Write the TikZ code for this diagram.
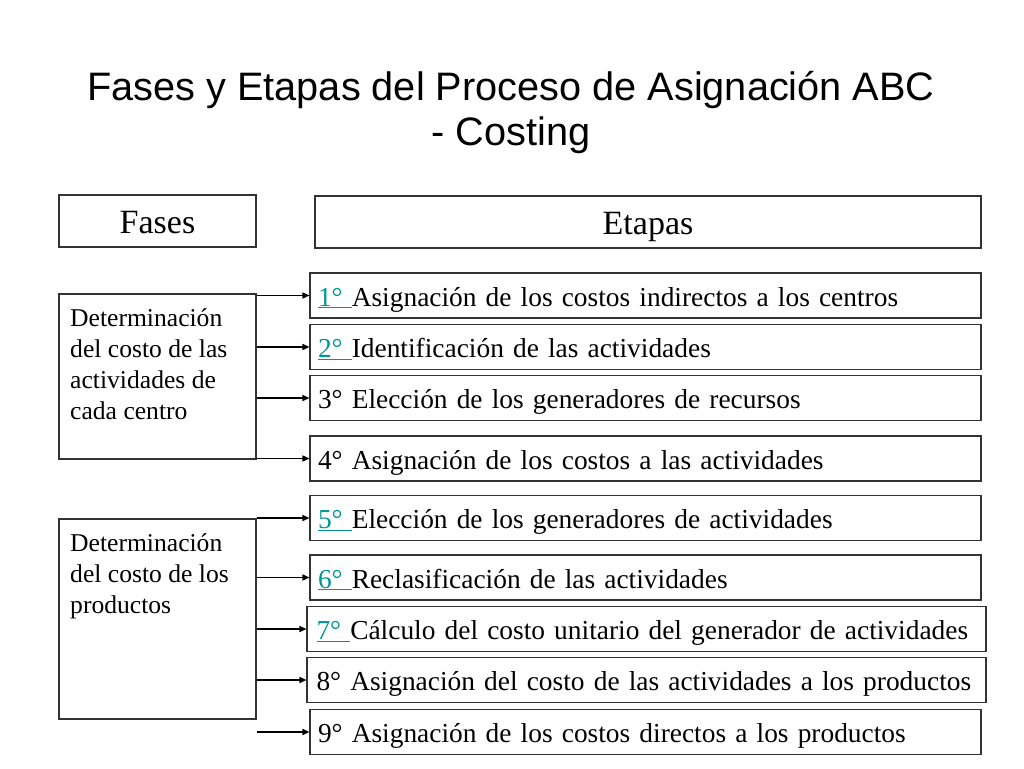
\documentclass[tikz,border=0pt]{standalone}
\usepackage{fontspec}
\setmainfont{Liberation Serif}
\newfontfamily\titlefont{Liberation Sans}
\usetikzlibrary{arrows.meta}
\definecolor{enlace}{RGB}{0,150,150}
\newcommand{\paso}[1]{\textcolor{enlace}{\underline{#1\ }}}

\begin{document}
\begin{tikzpicture}[x=1pt,y=-1pt]
\tikzstyle{caja}=[draw=black!80,line width=1.1pt,inner sep=0pt]
\tikzstyle{etapa}=[caja,font=\fontsize{27.4}{32}\selectfont,
                   text width=655pt,inner xsep=8pt,minimum height=45pt,align=left,
                   text height=27pt,text depth=6pt]
\tikzstyle{etapaancha}=[etapa,text width=660pt,inner xsep=9.5pt]
\tikzstyle{fase}=[caja,minimum width=197pt]
\tikzstyle{fasetxt}=[font=\fontsize{25.6}{31}\selectfont,align=left,
                     anchor=north west,inner sep=0pt]
\tikzstyle{titular}=[caja,minimum height=52pt,font=\fontsize{34}{40}\selectfont,
                     text height=30pt,text depth=6pt]
\tikzstyle{flecha}=[line width=1.5pt,-{Triangle[length=7pt,width=6pt]}]
\useasboundingbox (0,0) rectangle (1024,768);

% titulo
\node[font=\titlefont\fontsize{39.7}{45}\selectfont,align=center,anchor=north]
  (titulo) at (511,68) {Fases y Etapas del Proceso de Asignación ABC\\- Costing};

% encabezados
\node[titular,minimum width=197pt] (fases) at (157.5,221) {Fases};
\node[titular,minimum width=666pt] (etapas) at (648,222) {Etapas};

% fases
\node[fase,minimum height=165pt] (f1) at (157.5,376.5) {};
\node[fasetxt] (f1t) at (70,308)
  {Determinación\\del costo de las\\actividades de\\cada centro};
\node[fase,minimum height=200pt] (f2) at (157.5,619) {};
\node[fasetxt] (f2t) at (70,533)
  {Determinación\\del costo de los\\productos};

% etapas
\node[etapa] (e1) at (645.5,295.5) {\paso{1°}Asignación de los costos indirectos a los centros};
\node[etapa] (e2) at (645.5,347) {\paso{2°}Identificación de las actividades};
\node[etapa] (e3) at (645.5,398) {3° Elección de los generadores de recursos};
\node[etapa] (e4) at (645.5,458.5) {4° Asignación de los costos a las actividades};
\node[etapa] (e5) at (645.5,518) {\paso{5°}Elección de los generadores de actividades};
\node[etapa] (e6) at (645.5,577.5) {\paso{6°}Reclasificación de las actividades};
\node[etapaancha] (e7) at (646.5,629) {\paso{7°}Cálculo del costo unitario del generador de actividades};
\node[etapaancha] (e8) at (646.5,680) {8° Asignación del costo de las actividades a los productos};
\node[etapa] (e9) at (645.5,732) {9° Asignación de los costos directos a los productos};

% flechas
\foreach \e in {e1,e2,e3,e4}
  \draw[flecha] (f1.east |- \e.west) -- (\e.west);
\foreach \e in {e5,e6,e7,e8,e9}
  \draw[flecha] (f2.east |- \e.west) -- (\e.west);
\end{tikzpicture}
\end{document}
